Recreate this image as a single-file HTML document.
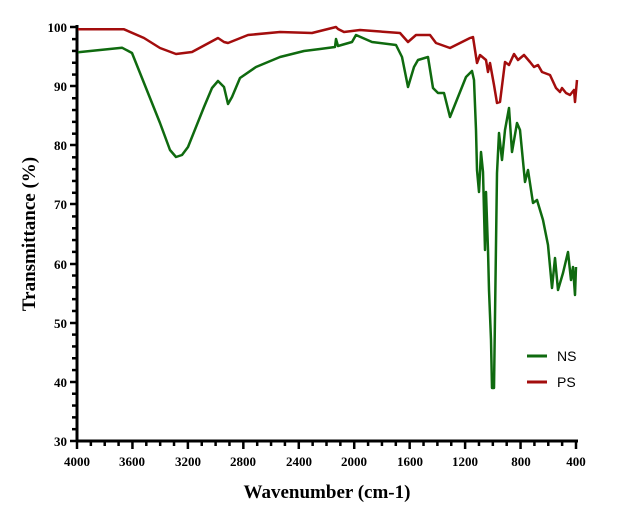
<!DOCTYPE html>
<html><head><meta charset="utf-8"><style>
body{margin:0;background:#fff;}
svg{display:block;}
.t{font-family:"Liberation Serif",serif;font-weight:bold;font-size:13px;fill:#000;}
</style></head><body>
<svg width="621" height="518" viewBox="0 0 621 518">
<g stroke="#000" stroke-width="3" fill="none">
<line x1="77" y1="25" x2="77" y2="442"/>
<line x1="76" y1="441" x2="578" y2="441"/>
</g>
<g stroke="#000" stroke-width="2.5">
<line x1="70" y1="27" x2="77" y2="27"/><line x1="70" y1="86" x2="77" y2="86"/><line x1="70" y1="145" x2="77" y2="145"/><line x1="70" y1="204" x2="77" y2="204"/><line x1="70" y1="264" x2="77" y2="264"/><line x1="70" y1="323" x2="77" y2="323"/><line x1="70" y1="382" x2="77" y2="382"/><line x1="70" y1="441" x2="77" y2="441"/>
</g>
<g id="ym" stroke="#000" stroke-width="2.5"></g>
<g id="xt" stroke="#000" stroke-width="2.5"></g>
<g class="t" text-anchor="end">
<text x="67" y="32">100</text><text x="67" y="91">90</text><text x="67" y="150">80</text><text x="67" y="209">70</text><text x="67" y="269">60</text><text x="67" y="328">50</text><text x="67" y="387">40</text><text x="67" y="446">30</text>
</g>
<g class="t" text-anchor="middle">
<text x="77" y="466">4000</text><text x="132" y="466">3600</text><text x="188" y="466">3200</text><text x="243" y="466">2800</text><text x="299" y="466">2400</text><text x="354" y="466">2000</text><text x="410" y="466">1600</text><text x="465" y="466">1200</text><text x="521" y="466">800</text><text x="576" y="466">400</text>
</g>
<text x="327" y="498" text-anchor="middle" style="font-family:'Liberation Serif',serif;font-weight:bold;font-size:19px">Wavenumber (cm-1)</text>
<text transform="translate(35,234) rotate(-90)" text-anchor="middle" style="font-family:'Liberation Serif',serif;font-weight:bold;font-size:19px">Transmittance (%)</text>
<polyline fill="none" stroke="#a30d0d" stroke-width="2.5" stroke-linejoin="round" points="78,29.3 124,29.3 144,38 160,48 176,54 192,52 205,45 218,38 224,42 228,43 238,39 248,35 280,32 312,33 336,27 338,29 344,32 360,30 400,33 408,42 416,35 430,35 436,43 450,48 460,43 470,38 473,37 477,63 480,55 486,60 488,72 490,63 494,85 497,103 500,102 505,62 509,65 514,54 518,60 524,55 530,62 534,67 538,65 542,72 550,75 556,88 560,92 562,88 566,93 570,95 574,90 575,102 577,80"/>
<polyline fill="none" stroke="#0f6a0f" stroke-width="2.5" stroke-linejoin="round" points="78,52.3 122,47.7 132,53 144,83 160,123 170,150 176,157 182,155 188,147 204,107 212,88 218,81 224,87 228,104 232,97 240,78 256,67 280,57 304,51 320,49 335,47 336,39 338,46 352,42 356,35 372,42 396,45 402,57 408,87 414,67 418,60 428,57 433,88 438,93 444,93 450,117 454,107 462,87 466,77 472,71 474,80 476,130 477,170 479,192 481,152 483,172 485,250 486,192 488,250 489,290 491,340 492,388 494,388 497,173 499,133 502,160 505,130 509,108 512,152 517,123 520,130 525,182 528,170 533,203 537,200 543,220 548,245 552,288 555,258 558,290 563,273 568,252 571,280 573,267 575,295 576,267"/>
<line x1="527" y1="356" x2="547" y2="356" stroke="#0f6a0f" stroke-width="3"/>
<line x1="527" y1="382" x2="547" y2="382" stroke="#a30d0d" stroke-width="3"/>
<text x="557" y="361" style="font-family:'Liberation Sans',sans-serif;font-size:14px">NS</text>
<text x="557" y="387" style="font-family:'Liberation Sans',sans-serif;font-size:14px">PS</text>
</svg>
<script>
var ns="http://www.w3.org/2000/svg";
var ym=document.getElementById("ym");
for(var v=30;v<=100;v+=2){if(v%10==0)continue;var y=441-(v-30)*59.1/10;var l=document.createElementNS(ns,"line");l.setAttribute("x1",72);l.setAttribute("x2",77);l.setAttribute("y1",y);l.setAttribute("y2",y);ym.appendChild(l);}
var xt=document.getElementById("xt");
for(var w=4000;w>=400;w-=100){var x=77+(4000-w)*499/3600;var l=document.createElementNS(ns,"line");l.setAttribute("x1",x);l.setAttribute("x2",x);l.setAttribute("y1",441);l.setAttribute("y2",w%400==0?449:446);xt.appendChild(l);}
</script>
</body></html>
